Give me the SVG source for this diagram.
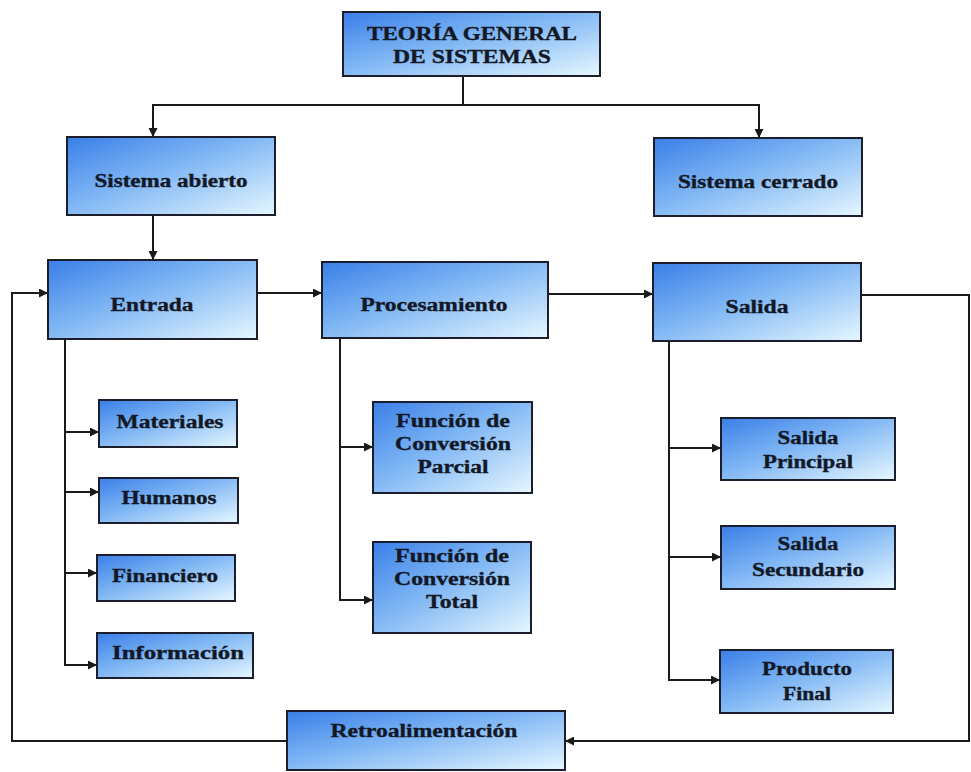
<svg xmlns="http://www.w3.org/2000/svg" width="971" height="772" viewBox="0 0 971 772">
  <style>
    .box { fill: url(#boxFill); stroke: #1c1f2b; stroke-width: 2; }
    .lbl { font-family: "Liberation Serif", "Times New Roman", serif; font-weight: bold; font-size: 18px; fill: #121826; stroke: #121826; stroke-width: 0.35; text-anchor: middle; }
    .wire { fill: none; stroke: #1a1a1a; stroke-width: 2; }
    .arrow { fill: none; stroke: #1a1a1a; stroke-width: 2; marker-end: url(#head); }
  </style>
  <defs>
    <linearGradient id="boxFill" x1="0" y1="0" x2="1" y2="1">
      <stop offset="0" stop-color="#3a7fe8"/>
      <stop offset="0.45" stop-color="#7fb6f4"/>
      <stop offset="1" stop-color="#e6f7ff"/>
    </linearGradient>
    <marker id="head" viewBox="0 0 10 10" refX="10" refY="5" markerWidth="9" markerHeight="9" markerUnits="userSpaceOnUse" orient="auto">
      <path d="M0,0 L10,5 L0,10 z" fill="#1a1a1a"/>
    </marker>
  </defs>

  <rect width="971" height="772" fill="#ffffff"/>

  <!-- connectors -->
  <g id="connectors">
    <!-- root split -->
    <path class="wire" d="M463,76 V105"/>
    <path class="wire" d="M153,105 H759"/>
    <path class="arrow" d="M153,104 V137"/>
    <path class="arrow" d="M759,104 V138"/>
    <!-- open system to input -->
    <path class="arrow" d="M153,215 V260"/>
    <!-- main flow -->
    <path class="arrow" d="M257,293 H322"/>
    <path class="arrow" d="M548,294 H653"/>
    <!-- input branches -->
    <path class="wire" d="M65,339 V665"/>
    <path class="arrow" d="M64,432 H99"/>
    <path class="arrow" d="M64,492 H99"/>
    <path class="arrow" d="M64,573 H97"/>
    <path class="arrow" d="M64,665 H97"/>
    <!-- processing branches -->
    <path class="wire" d="M340,338 V600"/>
    <path class="arrow" d="M339,447 H373"/>
    <path class="arrow" d="M339,600 H373"/>
    <!-- output branches -->
    <path class="wire" d="M669,341 V680"/>
    <path class="arrow" d="M668,448 H721"/>
    <path class="arrow" d="M668,557 H721"/>
    <path class="arrow" d="M668,680 H720"/>
    <!-- feedback loop -->
    <path class="arrow" d="M861,295 H969 V741 H565"/>
    <path class="arrow" d="M287,741 H12 V293 H48"/>
  </g>

  <g id="teoria-general">
    <rect class="box" x="343" y="12" width="257" height="64"/>
    <text class="lbl" x="472" y="40" textLength="210" lengthAdjust="spacingAndGlyphs">TEORÍA GENERAL</text>
    <text class="lbl" x="472" y="63" textLength="158" lengthAdjust="spacingAndGlyphs">DE SISTEMAS</text>
  </g>

  <g id="sistema-abierto">
    <rect class="box" x="67" y="137" width="208" height="78"/>
    <text class="lbl" x="171" y="187" textLength="153" lengthAdjust="spacingAndGlyphs">Sistema abierto</text>
  </g>

  <g id="sistema-cerrado">
    <rect class="box" x="654" y="138" width="208" height="78"/>
    <text class="lbl" x="758" y="188" textLength="160" lengthAdjust="spacingAndGlyphs">Sistema cerrado</text>
  </g>

  <g id="entrada">
    <rect class="box" x="48" y="260" width="209" height="79"/>
    <text class="lbl" x="152" y="311" textLength="83" lengthAdjust="spacingAndGlyphs">Entrada</text>
  </g>

  <g id="procesamiento">
    <rect class="box" x="322" y="262" width="226" height="76"/>
    <text class="lbl" x="434" y="311" textLength="147" lengthAdjust="spacingAndGlyphs">Procesamiento</text>
  </g>

  <g id="salida">
    <rect class="box" x="653" y="263" width="208" height="78"/>
    <text class="lbl" x="757" y="313" textLength="63" lengthAdjust="spacingAndGlyphs">Salida</text>
  </g>

  <g id="materiales">
    <rect class="box" x="99" y="400" width="138" height="47"/>
    <text class="lbl" x="170" y="428" textLength="107" lengthAdjust="spacingAndGlyphs">Materiales</text>
  </g>

  <g id="humanos">
    <rect class="box" x="99" y="478" width="139" height="45"/>
    <text class="lbl" x="169" y="504" textLength="95" lengthAdjust="spacingAndGlyphs">Humanos</text>
  </g>

  <g id="financiero">
    <rect class="box" x="97" y="555" width="138" height="46"/>
    <text class="lbl" x="165" y="582" textLength="106" lengthAdjust="spacingAndGlyphs">Financiero</text>
  </g>

  <g id="informacion">
    <rect class="box" x="97" y="633" width="156" height="45"/>
    <text class="lbl" x="178" y="659" textLength="132" lengthAdjust="spacingAndGlyphs">Información</text>
  </g>

  <g id="conversion-parcial">
    <rect class="box" x="373" y="402" width="159" height="91"/>
    <text class="lbl" x="453" y="427" textLength="114" lengthAdjust="spacingAndGlyphs">Función de</text>
    <text class="lbl" x="453" y="450" textLength="116" lengthAdjust="spacingAndGlyphs">Conversión</text>
    <text class="lbl" x="453" y="473" textLength="71" lengthAdjust="spacingAndGlyphs">Parcial</text>
  </g>

  <g id="conversion-total">
    <rect class="box" x="373" y="542" width="158" height="91"/>
    <text class="lbl" x="452" y="562" textLength="114" lengthAdjust="spacingAndGlyphs">Función de</text>
    <text class="lbl" x="452" y="585" textLength="116" lengthAdjust="spacingAndGlyphs">Conversión</text>
    <text class="lbl" x="452" y="608" textLength="52" lengthAdjust="spacingAndGlyphs">Total</text>
  </g>

  <g id="salida-principal">
    <rect class="box" x="721" y="418" width="174" height="62"/>
    <text class="lbl" x="808" y="444" textLength="61" lengthAdjust="spacingAndGlyphs">Salida</text>
    <text class="lbl" x="808" y="468" textLength="90" lengthAdjust="spacingAndGlyphs">Principal</text>
  </g>

  <g id="salida-secundario">
    <rect class="box" x="721" y="526" width="174" height="63"/>
    <text class="lbl" x="808" y="550" textLength="61" lengthAdjust="spacingAndGlyphs">Salida</text>
    <text class="lbl" x="808" y="576" textLength="112" lengthAdjust="spacingAndGlyphs">Secundario</text>
  </g>

  <g id="producto-final">
    <rect class="box" x="720" y="650" width="173" height="63"/>
    <text class="lbl" x="807" y="675" textLength="90" lengthAdjust="spacingAndGlyphs">Producto</text>
    <text class="lbl" x="807" y="700" textLength="48" lengthAdjust="spacingAndGlyphs">Final</text>
  </g>

  <g id="retroalimentacion">
    <rect class="box" x="287" y="711" width="278" height="59"/>
    <text class="lbl" x="424" y="737" textLength="187" lengthAdjust="spacingAndGlyphs">Retroalimentación</text>
  </g>
</svg>
